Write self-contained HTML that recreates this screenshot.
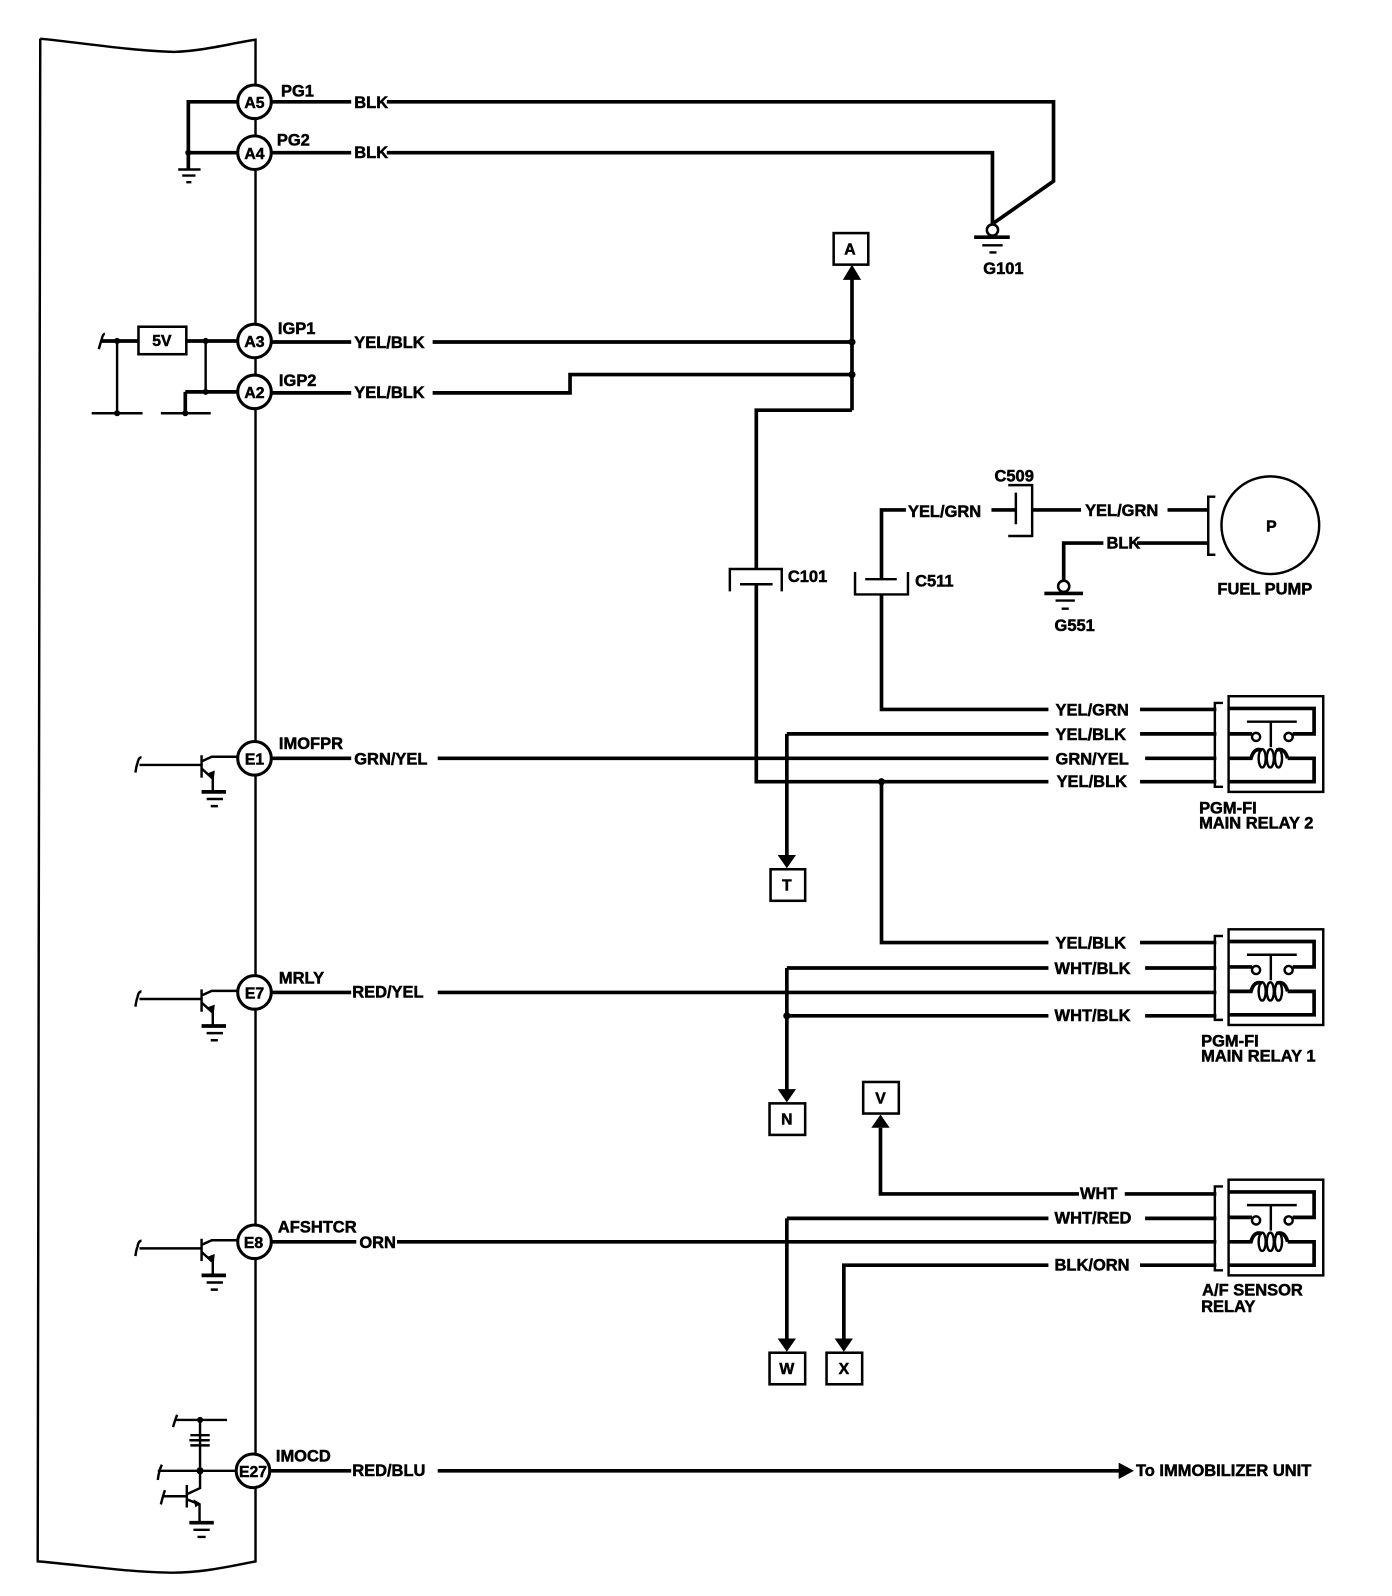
<!DOCTYPE html>
<html><head><meta charset="utf-8"><style>
html,body{margin:0;padding:0;background:#fff;width:1392px;height:1596px;overflow:hidden}
svg{display:block}
text{font-family:"Liberation Sans",sans-serif;font-weight:bold;font-size:16.2px;fill:#000;stroke:#000;stroke-width:.5}
.m text{font-size:15.5px}
.w{fill:none;stroke:#000;stroke-width:3.6}
.t{fill:none;stroke:#000;stroke-width:2.4}
.c{fill:#fff;stroke:#000;stroke-width:3}
</style></head><body>
<svg width="1392" height="1596" viewBox="0 0 1367.5 1568" xmlns="http://www.w3.org/2000/svg">
<defs>
<g id="relay">
<rect x="0" y="0" width="93" height="94" class="t" fill="none"/>
<path class="t" d="M-5.500 6.600H-13.500V89H-5.500" stroke-width="3"/>
<path class="w" d="M0 12H84V37H63M0 37H23M0 61H22Q25 50 33 53M58 61H84V84H0M58 61Q55 50 47 53"/>
<path class="t" d="M18 25H67M41.500 25V50" stroke-width="2"/>
<circle cx="27" cy="40" r="4" class="t" fill="#fff"/><circle cx="59" cy="40" r="4" class="t" fill="#fff"/>
<ellipse cx="33" cy="61" rx="3.500" ry="9" class="t"/><ellipse cx="41" cy="61" rx="3.500" ry="9" class="t"/><ellipse cx="49" cy="61" rx="3.500" ry="9" class="t"/>
</g>
<g id="trans">
<path class="t" d="M137 751.500H198M198 742V764M198 748L208 743.500H233M198 755L209 765V778" stroke-width="3"/>
<path d="M203 760L211 757L210 766Z"/>
<path class="t" d="M133 759Q134 752 135 750Q136 744 139 744" stroke-width="2"/>
<path class="w" d="M198 778H222" stroke-width="3"/>
<path class="t" d="M203 785H219M207 792H214"/>
</g>
</defs>

<!-- module outline -->
<path class="t" d="M39.500 38C80 42 130 50 171 51C200 50 225 43 251 39V1534C225 1539 195 1546 164 1545C120 1544 75 1537 37 1534L39.500 38"/>

<!-- terminals left side -->
<path class="w" d="M233 100H185V150M233 150H185V166"/>
<path class="t" d="M175 166.500H197M179 172.500H192M183 179H188"/>
<circle cx="185" cy="150" r="3"/>
<path class="w" d="M100 335H136M183 335H233M182 385H233M182 385V406" stroke-width="3"/>
<path class="t" d="M115 335V406M202 335V385M90 406H140M158 406H207"/>
<path class="t" d="M97 343Q99 336 100 333Q101 328 103 328" stroke-width="2"/>
<circle cx="115" cy="335" r="3"/><circle cx="202" cy="335" r="3"/><circle cx="202" cy="385" r="3"/><circle cx="115" cy="406" r="3"/><circle cx="182" cy="406" r="3"/>
<rect x="136" y="321" width="47" height="27" fill="#fff" stroke="#000" stroke-width="2.500"/>

<!-- BLK ground wires -->
<path class="w" d="M265 100H345M380 100H1035V178L975 220M265 150H345M380 150H975V222"/>
<circle cx="975" cy="226" r="5.500" fill="#fff" stroke="#000" stroke-width="2.500"/>
<path class="w" d="M957 233H992"/><path class="t" d="M965 241H985M972 248H979"/>

<!-- IGP wires -->
<path class="w" d="M265 336H345M425 336H837M265 386H345M425 386H560V368H837M837 403V270M837 403H743V559"/>
<path class="w" d="M743 574V768H1030M1120 768H1195"/>
<circle cx="837" cy="336" r="3.500"/><circle cx="837" cy="368" r="3.500"/>
<path d="M837 260L846 275H828Z"/>
<rect x="819" y="229" width="34" height="31" fill="#fff" stroke="#000" stroke-width="2.500"/>

<!-- C101 -->
<path class="t" d="M717 581V559H768V581M727 574H759" stroke-width="2.600"/>
<!-- C511 -->
<path class="w" d="M866 569V501H890M866 584V697H1030M1120 697H1195" />
<path class="t" d="M840 562V584H892V562M850 569H881" stroke-width="2.600"/>
<!-- C509 -->
<path class="w" d="M974 501H998M1014 501H1062M1147 501H1187M1045 570V533.500H1084M1117 533.500H1187"/>
<path class="t" d="M990.500 476.600H1014V526.600H990.500M998 484V515" stroke-width="2.400"/>
<path class="t" d="M1194 488H1187V545H1194" stroke-width="2.800"/>
<circle cx="1248" cy="516" r="48" fill="none" stroke="#000" stroke-width="2.400"/>
<circle cx="1045" cy="576" r="5.500" fill="#fff" stroke="#000" stroke-width="2.500"/>
<path class="w" d="M1026 583H1064"/><path class="t" d="M1037 590H1056M1043 598H1050"/>

<!-- relay 2 wires -->
<path class="w" d="M1120 721H1195M773 721H1030M773 721V842M265 745H345M430 745H1030M1125 745H1195M866 768V926H1030M1120 926H1195"/>
<circle cx="866" cy="768" r="3.500"/>
<path d="M773 853L764 840H782Z"/>
<rect x="757" y="854" width="34" height="31" fill="#fff" stroke="#000" stroke-width="2.500"/>
<use href="#relay" x="1207" y="684"/>

<!-- relay 1 wires -->
<path class="w" d="M265 975H345M430 975H1195M773 951H1030M1125 951H1195M773 951V1072M773 998H1030M1125 998H1195"/>
<circle cx="773" cy="998" r="3.500"/>
<path d="M773 1083L764 1070H782Z"/>
<rect x="756" y="1084" width="35" height="31" fill="#fff" stroke="#000" stroke-width="2.500"/>
<use href="#relay" x="1207" y="913"/>

<!-- relay 3 wires -->
<path class="w" d="M865 1108V1173H1060M1105 1173H1195M773 1197H1030M1125 1197H1195M773 1197V1317M265 1220H350M390 1220H1195M1120 1243H1195M1030 1243H829V1317"/>
<path d="M865 1095L874 1108H856Z"/>
<rect x="848" y="1063" width="35" height="31" fill="#fff" stroke="#000" stroke-width="2.500"/>
<path d="M773 1328L764 1315H782Z"/><path d="M829 1328L820 1315H838Z"/>
<rect x="756" y="1329" width="35" height="31" fill="#fff" stroke="#000" stroke-width="2.500"/>
<rect x="812" y="1329" width="35" height="31" fill="#fff" stroke="#000" stroke-width="2.500"/>
<use href="#relay" x="1207" y="1159"/>

<!-- transistors -->
<use href="#trans"/>
<use href="#trans" y="230"/>
<use href="#trans" y="475"/>

<!-- E27 -->
<path class="w" d="M265 1445H345M430 1445H1100"/>
<path d="M1114 1445L1099 1437V1453Z"/>
<path class="t" d="M172 1395H223M196.500 1395V1462L183.500 1468M155 1445H232M160 1470H183.500M183.500 1459V1481M183.500 1473L196 1478V1496" stroke-width="2.800"/>
<path class="t" d="M187 1410H206M186 1415H206M187 1420H206" stroke-width="2.800"/>
<path class="t" d="M170 1402Q172 1395 174 1390M155 1454Q156 1445 159 1439M158 1478Q160 1470 162 1464" stroke-width="2"/>
<circle cx="196.500" cy="1395" r="3"/><circle cx="196.500" cy="1445" r="3.500"/>
<path d="M190 1473L197 1477L192 1481Z"/>
<path class="w" d="M186 1496H210" stroke-width="3"/>
<path class="t" d="M190 1503H206M194 1510H202"/>

<!-- connector circles -->
<g class="c">
<circle cx="250" cy="100" r="16.500"/><circle cx="250" cy="150" r="16.500"/>
<circle cx="250" cy="335" r="16.500"/><circle cx="250" cy="385" r="16.500"/>
<circle cx="250" cy="745" r="16.500"/><circle cx="250" cy="975" r="16.500"/>
<circle cx="250" cy="1220" r="16.500"/><circle cx="248.500" cy="1445" r="16.500"/>
</g>

<!-- labels -->
<g text-anchor="middle" class="m">
<text x="250" y="106">A5</text><text x="250" y="156">A4</text><text x="250" y="341">A3</text><text x="250" y="391">A2</text>
<text x="250" y="751">E1</text><text x="250" y="981">E7</text><text x="249" y="1226">E8</text><text x="248.500" y="1451">E27</text>
<text x="159" y="340">5V</text><text x="835" y="250">A</text><text x="773" y="875">T</text><text x="773" y="1105">N</text>
<text x="865" y="1084">V</text><text x="773" y="1350">W</text><text x="829" y="1350">X</text><text x="1249" y="522">P</text>
</g>
<text x="276" y="95">PG1</text><text x="272" y="143">PG2</text><text x="273" y="328">IGP1</text><text x="274" y="379">IGP2</text>
<text x="348" y="106">BLK</text><text x="348" y="155">BLK</text><text x="348" y="342">YEL/BLK</text><text x="348" y="391">YEL/BLK</text>
<text x="966" y="269">G101</text><text x="977" y="473">C509</text><text x="892" y="508">YEL/GRN</text><text x="1066" y="507">YEL/GRN</text>
<text x="1087" y="539">BLK</text><text x="1196" y="584">FUEL PUMP</text><text x="1036" y="620">G551</text><text x="774" y="572">C101</text><text x="899" y="576">C511</text>
<text x="1037" y="703">YEL/GRN</text><text x="1037" y="727">YEL/BLK</text><text x="1037" y="751">GRN/YEL</text><text x="1038" y="773">YEL/BLK</text>
<text x="1178" y="799">PGM-FI</text><text x="1178" y="814">MAIN RELAY 2</text>
<text x="274" y="736">IMOFPR</text><text x="348" y="751">GRN/YEL</text>
<text x="274" y="966">MRLY</text><text x="346" y="980">RED/YEL</text>
<text x="1037" y="932">YEL/BLK</text><text x="1036" y="957">WHT/BLK</text><text x="1036" y="1003">WHT/BLK</text>
<text x="1180" y="1028">PGM-FI</text><text x="1180" y="1043">MAIN RELAY 1</text>
<text x="1061" y="1178">WHT</text><text x="1036" y="1202">WHT/RED</text><text x="1036" y="1248">BLK/ORN</text>
<text x="273" y="1211">AFSHTCR</text><text x="353" y="1226">ORN</text>
<text x="1181" y="1273">A/F SENSOR</text><text x="1180" y="1289">RELAY</text>
<text x="271" y="1436">IMOCD</text><text x="346" y="1450">RED/BLU</text><text x="1116" y="1450">To IMMOBILIZER UNIT</text>
</svg>
</body></html>
